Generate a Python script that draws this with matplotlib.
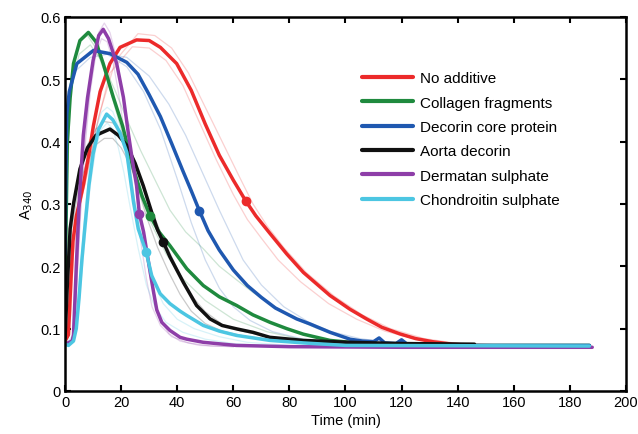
import matplotlib
matplotlib.use("Agg")
import matplotlib.pyplot as plt

plt.rcParams['font.family'] = ['Liberation Sans', 'DejaVu Sans']

# ---- data (time in min, A340) ----
red_t = [0, 1.2, 2, 2.8, 4, 6.5, 8.5, 10.1, 12.5, 16, 19.6, 25.5, 30, 34, 39.8, 45, 50, 55, 60, 64.4, 68, 73, 79, 85, 94.5, 101.6, 107.5, 113, 119.4, 125, 131, 138, 145, 160, 175, 187]
red_v = [0.08, 0.09, 0.17, 0.24, 0.28, 0.33, 0.38, 0.425, 0.48, 0.525, 0.551, 0.563, 0.562, 0.551, 0.525, 0.482, 0.428, 0.378, 0.338, 0.305, 0.281, 0.253, 0.22, 0.19, 0.153, 0.131, 0.1155, 0.102, 0.0915, 0.084, 0.079, 0.075, 0.073, 0.072, 0.072, 0.072]

green_t = [0, 0.3, 0.8, 1.8, 3, 5.3, 8.3, 11, 13.6, 17.2, 20.5, 24.4, 27.5, 30.3, 33.5, 37.4, 43.4, 49.3, 55, 61.2, 67, 73.1, 79, 85, 94.5, 101.6, 110, 120, 140, 160, 187]
green_v = [0.1, 0.25, 0.4, 0.47, 0.525, 0.562, 0.575, 0.56, 0.525, 0.471, 0.425, 0.356, 0.312, 0.281, 0.255, 0.233, 0.196, 0.169, 0.151, 0.137, 0.122, 0.11, 0.1, 0.091, 0.081, 0.078, 0.075, 0.074, 0.073, 0.073, 0.073]

blue_t = [0, 0.3, 0.6, 1.5, 4.2, 10.1, 16, 22, 26, 30, 34, 38, 42, 45, 47.9, 51, 55, 60, 65, 70, 75, 82.6, 87.3, 94.5, 101.6, 106, 110, 112, 114, 118, 120, 122, 130, 145, 160, 187]
blue_v = [0.22, 0.35, 0.444, 0.48, 0.525, 0.546, 0.541, 0.527, 0.508, 0.475, 0.44, 0.397, 0.353, 0.321, 0.289, 0.257, 0.226, 0.194, 0.169, 0.15, 0.133, 0.1155, 0.1075, 0.094, 0.083, 0.08, 0.079, 0.085, 0.077, 0.076, 0.082, 0.075, 0.074, 0.073, 0.073, 0.073]

black_t = [0, 0.7, 1.8, 3, 5.3, 8, 11, 16, 19, 22, 25, 27.9, 31, 33, 35, 37.4, 42.2, 46.9, 51.7, 56, 61.2, 67, 73, 85, 101, 120, 146]
black_v = [0.085, 0.16, 0.26, 0.3, 0.356, 0.39, 0.41, 0.42, 0.41, 0.394, 0.365, 0.329, 0.285, 0.258, 0.239, 0.215, 0.174, 0.137, 0.1155, 0.105, 0.0995, 0.094, 0.086, 0.081, 0.078, 0.076, 0.075]

purple_t = [0, 2.5, 3, 4, 5, 6.5, 8, 10, 12, 13.6, 15.5, 18.4, 20.8, 22.6, 24, 25.5, 26.5, 28, 30, 31.5, 32.7, 34.5, 37.4, 41, 43.4, 49.3, 61, 80, 120, 188]
purple_v = [0.075, 0.08, 0.09, 0.2, 0.3, 0.41, 0.47, 0.53, 0.57, 0.58, 0.565, 0.525, 0.471, 0.412, 0.37, 0.329, 0.284, 0.255, 0.2, 0.16, 0.13, 0.11, 0.097, 0.086, 0.083, 0.078, 0.073, 0.071, 0.07, 0.07]

cyan_t = [0, 1.2, 3, 4, 5, 6, 7, 8.5, 10, 12, 14.8, 17, 19.5, 22, 24.4, 26.1, 28.9, 30.9, 33.9, 37.4, 41, 43.4, 49.3, 55, 61.2, 73.1, 85, 100, 187]
cyan_v = [0.075, 0.073, 0.08, 0.1, 0.15, 0.21, 0.26, 0.33, 0.38, 0.42, 0.444, 0.435, 0.415, 0.383, 0.303, 0.26, 0.223, 0.185, 0.156, 0.14, 0.128, 0.121, 0.105, 0.096, 0.089, 0.081, 0.077, 0.073, 0.072]

# faint replicate curves
red_r1_t = [0, 2, 3, 5, 8, 12, 18, 26, 32, 38, 44, 50, 56, 62, 67, 72, 78, 86, 96, 106, 116, 128, 140, 160]
red_r1_v = [0.08, 0.12, 0.22, 0.29, 0.35, 0.44, 0.53, 0.573, 0.57, 0.55, 0.51, 0.455, 0.4, 0.345, 0.3, 0.265, 0.23, 0.19, 0.152, 0.122, 0.1, 0.084, 0.076, 0.072]
red_r2_t = [0, 1.5, 2.5, 4, 7, 11, 16, 24, 30, 36, 42, 48, 54, 60, 65, 70, 76, 84, 94, 104, 114, 126, 140, 160]
red_r2_v = [0.08, 0.12, 0.22, 0.27, 0.33, 0.42, 0.51, 0.552, 0.55, 0.53, 0.49, 0.43, 0.37, 0.315, 0.275, 0.245, 0.21, 0.175, 0.14, 0.115, 0.096, 0.082, 0.075, 0.072]

blue_r1_t = [0, 0.5, 3, 9, 15, 22, 28, 34, 40, 45, 50, 55, 60, 66, 74, 85, 100, 115]
blue_r1_v = [0.22, 0.43, 0.52, 0.545, 0.54, 0.52, 0.48, 0.42, 0.34, 0.27, 0.21, 0.165, 0.135, 0.113, 0.095, 0.083, 0.076, 0.073]
blue_r2_t = [0, 0.5, 3, 9, 15, 22, 30, 37, 43, 49, 55, 63.5, 70, 78, 87, 95, 105, 120]
blue_r2_v = [0.22, 0.42, 0.51, 0.535, 0.54, 0.535, 0.505, 0.46, 0.41, 0.35, 0.29, 0.21, 0.17, 0.135, 0.11, 0.095, 0.084, 0.075]

green_r1_t = [0, 0.5, 2, 5, 9, 13, 18, 22, 27, 33, 37.4, 43, 49.3, 55, 61.2, 67, 73.1, 80, 90, 100, 115]
green_r1_v = [0.1, 0.3, 0.48, 0.54, 0.555, 0.53, 0.48, 0.436, 0.385, 0.33, 0.29, 0.255, 0.228, 0.2, 0.178, 0.158, 0.14, 0.12, 0.1, 0.085, 0.075]
green_r2_t = [0, 0.5, 2, 5, 8, 11, 15, 20, 25, 30, 36, 42, 50, 60, 72, 85, 100]
green_r2_v = [0.1, 0.32, 0.5, 0.56, 0.57, 0.55, 0.5, 0.42, 0.34, 0.275, 0.22, 0.18, 0.145, 0.115, 0.095, 0.082, 0.074]

purple_r1_t = [0, 3, 4, 5, 6.5, 8, 10, 12, 14, 16, 18, 20, 22, 24, 26, 28, 30, 32, 34, 37, 41, 48, 60]
purple_r1_v = [0.075, 0.085, 0.15, 0.25, 0.37, 0.45, 0.53, 0.575, 0.59, 0.575, 0.54, 0.49, 0.43, 0.37, 0.31, 0.25, 0.19, 0.145, 0.115, 0.092, 0.08, 0.073, 0.071]
purple_r2_t = [0, 3, 4.5, 6, 7.5, 9, 11, 13, 15, 17, 19, 21, 23, 25, 27, 29, 31, 34, 38, 44, 52, 60]
purple_r2_v = [0.075, 0.08, 0.2, 0.32, 0.41, 0.48, 0.54, 0.565, 0.56, 0.53, 0.48, 0.42, 0.36, 0.3, 0.24, 0.18, 0.135, 0.105, 0.087, 0.077, 0.072, 0.071]

cyan_r1_t = [0, 3, 5, 7, 9, 11, 13, 15, 17, 19, 21, 23, 25, 28, 31, 35, 40, 46, 55, 65, 80]
cyan_r1_v = [0.075, 0.09, 0.17, 0.28, 0.37, 0.42, 0.447, 0.455, 0.448, 0.425, 0.39, 0.35, 0.3, 0.235, 0.18, 0.14, 0.115, 0.1, 0.087, 0.078, 0.073]
cyan_r2_t = [0, 3, 5, 7, 9, 11, 13, 15, 17, 19, 21, 23, 26, 29, 32, 36, 42, 50, 60, 75]
cyan_r2_v = [0.075, 0.085, 0.14, 0.24, 0.33, 0.39, 0.42, 0.43, 0.42, 0.39, 0.35, 0.3, 0.23, 0.17, 0.135, 0.11, 0.094, 0.083, 0.076, 0.072]

black_r1_t = [0, 1, 2, 5, 8, 11, 14, 17, 20, 23, 26, 30, 34, 38, 42, 46, 50, 56, 62, 70, 80, 95, 110]
black_r1_v = [0.085, 0.2, 0.27, 0.35, 0.395, 0.42, 0.432, 0.43, 0.415, 0.39, 0.355, 0.3, 0.255, 0.215, 0.178, 0.148, 0.127, 0.107, 0.097, 0.089, 0.083, 0.078, 0.076]
black_r2_t = [0, 1, 2, 5, 8, 11, 14, 17, 20, 23, 26, 29, 33, 37, 41, 45, 50, 56, 65, 80, 100]
black_r2_v = [0.085, 0.18, 0.25, 0.33, 0.37, 0.395, 0.405, 0.405, 0.39, 0.365, 0.325, 0.28, 0.23, 0.19, 0.155, 0.128, 0.108, 0.096, 0.087, 0.08, 0.076]

# half-maximum markers
marker_t = [64.4, 30.3, 47.9, 35, 26.5, 28.9]
marker_v = [0.305, 0.281, 0.289, 0.239, 0.284, 0.223]

labels = ["No additive", "Collagen fragments", "Decorin core protein",
          "Aorta decorin", "Dermatan sulphate", "Chondroitin sulphate"]
colors = ["#ec2a2a", "#1f8a3e", "#1f58b0", "#111111", "#8e3ea8", "#4cc6e2"]

main = [(red_t, red_v), (green_t, green_v), (blue_t, blue_v),
        (black_t, black_v), (purple_t, purple_v), (cyan_t, cyan_v)]
reps = [[(red_r1_t, red_r1_v), (red_r2_t, red_r2_v)],
        [(green_r1_t, green_r1_v), (green_r2_t, green_r2_v)],
        [(blue_r1_t, blue_r1_v), (blue_r2_t, blue_r2_v)],
        [(black_r1_t, black_r1_v), (black_r2_t, black_r2_v)],
        [(purple_r1_t, purple_r1_v), (purple_r2_t, purple_r2_v)],
        [(cyan_r1_t, cyan_r1_v), (cyan_r2_t, cyan_r2_v)]]

fig = plt.figure(figsize=(6.38, 4.35), dpi=100)
ax = fig.add_axes([0.102, 0.099, 0.879, 0.860])

for c, rr in zip(colors, reps):
    for t, v in rr:
        ax.plot(t, v, color=c, lw=0.9, alpha=0.22, zorder=1)

handles = []
for (t, v), c, lab in zip(main, colors, labels):
    h, = ax.plot(t, v, color=c, lw=2.5, label=lab, zorder=2,
                 solid_capstyle='round', solid_joinstyle='round')
    handles.append(h)

for mt, mv, c in zip(marker_t, marker_v, colors):
    ax.plot([mt], [mv], 'o', color=c, ms=6, zorder=3)

ax.set_xlim(0, 200)
ax.set_ylim(0, 0.6)
ax.set_xticks(range(0, 201, 20))
ax.set_yticks([0, 0.1, 0.2, 0.3, 0.4, 0.5, 0.6])
ax.set_yticklabels(["0", "0.1", "0.2", "0.3", "0.4", "0.5", "0.6"])
ax.tick_params(direction='in', top=True, right=True, length=4, width=1.5,
               labelsize=10.5, pad=3)
for s in ax.spines.values():
    s.set_linewidth(1.8)

ax.set_xlabel("Time (min)", fontsize=10.5, labelpad=3)
ax.set_ylabel("A$_{340}$", fontsize=10.5, labelpad=4)

leg = ax.legend(handles=handles, loc='upper left', bbox_to_anchor=(0.519, 0.871),
                frameon=False, fontsize=11, handlelength=3.3, labelspacing=0.68,
                borderaxespad=0, handletextpad=0.5)
for l in leg.get_lines():
    l.set_linewidth(3)

fig.savefig("out.png", dpi=100)
